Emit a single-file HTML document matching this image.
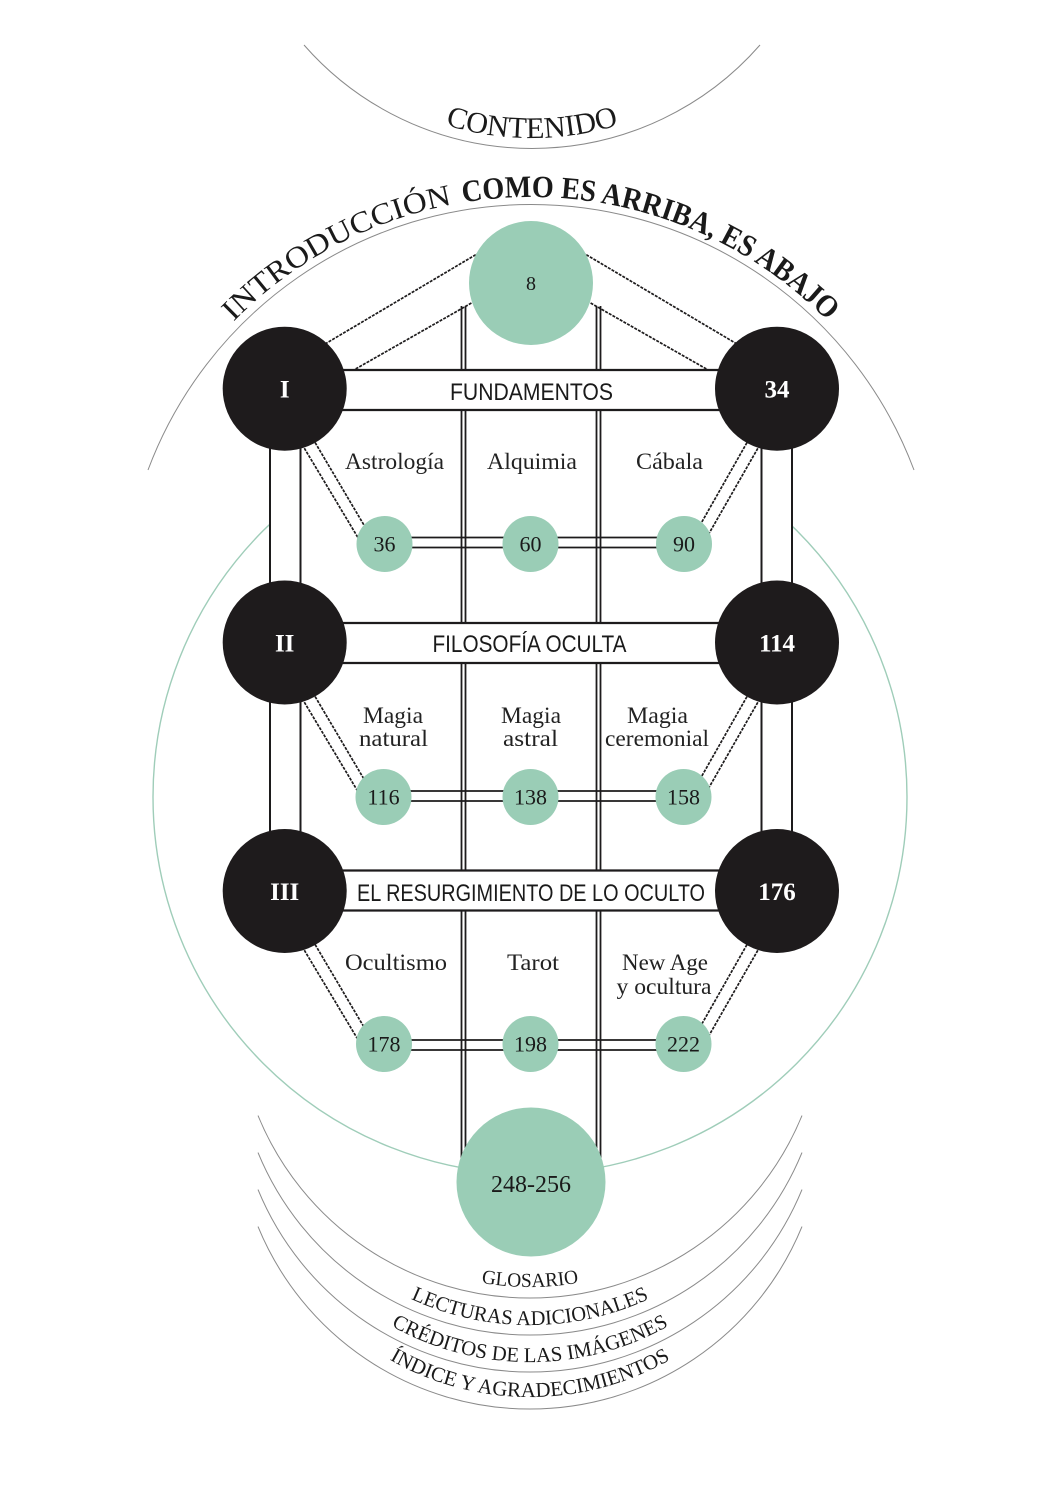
<!DOCTYPE html>
<html>
<head>
<meta charset="utf-8">
<style>
html,body{margin:0;padding:0;background:#fff;}
svg{display:block;}
.ser{font-family:"Liberation Serif",serif;}
.disp{font-family:"Liberation Sans Narrow","Liberation Sans",sans-serif;}
</style>
</head>
<body>
<svg width="1063" height="1500" viewBox="0 0 1063 1500" xmlns="http://www.w3.org/2000/svg">
<rect width="1063" height="1500" fill="#fff"/>
<defs>
  <path id="pContenido" d="M344.3,69.7 A292,292 0 0 0 719.7,69.7"/>
  <path id="pIntro" d="M206.9,351.6 A417,417 0 0 1 855.1,351.6"/>
  <path id="pGlos" d="M348.1,1220.8 A283,283 0 0 0 711.9,1220.8"/>
  <path id="pLect" d="M347.4,1258.6 A284,284 0 0 0 712.6,1258.6"/>
  <path id="pCred" d="M347.4,1295.6 A284,284 0 0 0 712.6,1295.6"/>
  <path id="pIndi" d="M348.7,1331 A282,282 0 0 0 711.3,1331"/>
</defs>

<!-- gray arcs -->
<g fill="none" stroke="#8a8a8a" stroke-width="1">
  <path d="M304,45 A303,303 0 0 0 760,45"/>
  <path d="M148,470 A409,409 0 0 1 914,470"/>
  <path d="M258,1115.6 A294,294 0 0 0 802,1115.6"/>
  <path d="M258,1152.6 A294,294 0 0 0 802,1152.6"/>
  <path d="M258,1189.6 A294,294 0 0 0 802,1189.6"/>
  <path d="M258,1226.6 A294,294 0 0 0 802,1226.6"/>
</g>

<!-- big green circle -->
<circle cx="530" cy="797" r="377" fill="none" stroke="#9fcdb9" stroke-width="1.4"/>
<rect x="270" y="405" width="522" height="550" fill="#fff"/>

<!-- pillars -->
<g stroke="#1d1b1c" stroke-width="2">
  <line x1="270" y1="389" x2="270" y2="891"/>
  <line x1="300.5" y1="389" x2="300.5" y2="891"/>
  <line x1="761.5" y1="389" x2="761.5" y2="891"/>
  <line x1="792" y1="389" x2="792" y2="891"/>
</g>

<!-- central verticals -->
<g stroke="#1d1b1c" stroke-width="1.8">
  <line x1="461.5" y1="306" x2="461.5" y2="1182"/>
  <line x1="465.5" y1="306" x2="465.5" y2="1182"/>
  <line x1="596.5" y1="306" x2="596.5" y2="1182"/>
  <line x1="600.5" y1="306" x2="600.5" y2="1182"/>
</g>

<!-- dashed diagonals -->
<g stroke="#1d1b1c" stroke-width="1.7" stroke-dasharray="3,1.2" fill="none">
  <line x1="325" y1="344" x2="482" y2="251"/>
  <line x1="352" y1="371" x2="475" y2="301"/>
  <line x1="737" y1="344" x2="580" y2="251"/>
  <line x1="710" y1="371" x2="587" y2="301"/>
  <!-- row 1 -->
  <line x1="300" y1="441" x2="360" y2="541"/>
  <line x1="313" y1="439" x2="366" y2="528.5"/>
  <line x1="762" y1="441" x2="707" y2="537"/>
  <line x1="749" y1="439" x2="699" y2="527"/>
  <!-- row 2 -->
  <line x1="300" y1="695" x2="360" y2="795"/>
  <line x1="313" y1="693" x2="366" y2="782.5"/>
  <line x1="762" y1="695" x2="707" y2="791"/>
  <line x1="749" y1="693" x2="699" y2="781"/>
  <!-- row 3 -->
  <line x1="300" y1="943" x2="360" y2="1043"/>
  <line x1="313" y1="941" x2="366" y2="1030.5"/>
  <line x1="762" y1="943" x2="707" y2="1039"/>
  <line x1="749" y1="941" x2="699" y2="1029"/>
</g>

<!-- horizontal double lines -->
<g stroke="#1d1b1c" stroke-width="1.7">
  <line x1="384" y1="537.5" x2="684" y2="537.5"/>
  <line x1="384" y1="547.5" x2="684" y2="547.5"/>
  <line x1="384" y1="791" x2="684" y2="791"/>
  <line x1="384" y1="801" x2="684" y2="801"/>
  <line x1="384" y1="1040" x2="684" y2="1040"/>
  <line x1="384" y1="1050" x2="684" y2="1050"/>
</g>

<!-- bars -->
<g>
  <rect x="300" y="370" width="462" height="40" fill="#fff"/>
  <rect x="300" y="623" width="462" height="40" fill="#fff"/>
  <rect x="300" y="870.5" width="462" height="40" fill="#fff"/>
</g>
<g stroke="#1d1b1c" stroke-width="2.2">
  <line x1="284" y1="370" x2="777" y2="370"/>
  <line x1="284" y1="410" x2="777" y2="410"/>
  <line x1="284" y1="623" x2="777" y2="623"/>
  <line x1="284" y1="663" x2="777" y2="663"/>
  <line x1="284" y1="870.5" x2="777" y2="870.5"/>
  <line x1="284" y1="910.5" x2="777" y2="910.5"/>
</g>

<!-- green nodes -->
<g fill="#9acdb6">
  <circle cx="531" cy="283" r="62"/>
  <circle cx="384.5" cy="544" r="28"/>
  <circle cx="530.5" cy="544" r="28"/>
  <circle cx="684" cy="544" r="28"/>
  <circle cx="383.5" cy="797" r="28"/>
  <circle cx="530.5" cy="797" r="28"/>
  <circle cx="683.5" cy="797" r="28"/>
  <circle cx="384" cy="1044" r="28"/>
  <circle cx="530.5" cy="1044" r="28"/>
  <circle cx="683.5" cy="1044" r="28"/>
  <circle cx="531" cy="1182" r="74.5"/>
</g>

<!-- black nodes -->
<g fill="#1e1b1c">
  <circle cx="284.7" cy="388.7" r="62"/>
  <circle cx="777" cy="388.7" r="62"/>
  <circle cx="284.7" cy="642.5" r="62"/>
  <circle cx="777" cy="642.5" r="62"/>
  <circle cx="284.7" cy="891" r="62"/>
  <circle cx="777" cy="891" r="62"/>
</g>

<!-- black node labels -->
<g class="ser" fill="#fff" font-weight="bold" font-size="25" text-anchor="middle">
  <text x="284.7" y="397.5">I</text>
  <text x="777" y="397.5">34</text>
  <text x="284.7" y="651.5">II</text>
  <text x="777" y="651.5">114</text>
  <text x="284.7" y="900">III</text>
  <text x="777" y="900">176</text>
</g>

<!-- green node labels -->
<g class="ser" fill="#1a1a1a" font-size="22" text-anchor="middle">
  <text x="531" y="290" font-size="20">8</text>
  <text x="384.5" y="551.5">36</text>
  <text x="530.5" y="551.5">60</text>
  <text x="684" y="551.5">90</text>
  <text x="383.5" y="804.5">116</text>
  <text x="530.5" y="804.5">138</text>
  <text x="683.5" y="804.5">158</text>
  <text x="384" y="1051.5">178</text>
  <text x="530.5" y="1051.5">198</text>
  <text x="683.5" y="1051.5">222</text>
  <text x="531" y="1192" font-size="24">248-256</text>
</g>

<!-- bar titles -->
<g class="disp" fill="#1a1a1a" font-size="24" text-anchor="middle">
  <text x="531.5" y="400" textLength="163" lengthAdjust="spacingAndGlyphs">FUNDAMENTOS</text>
  <text x="529.5" y="652" textLength="194" lengthAdjust="spacingAndGlyphs">FILOSOFÍA OCULTA</text>
  <text x="531" y="901" textLength="348" lengthAdjust="spacingAndGlyphs">EL RESURGIMIENTO DE LO OCULTO</text>
</g>

<!-- section labels -->
<g class="ser" fill="#222" font-size="23" text-anchor="middle">
  <text x="394.5" y="469" textLength="99" lengthAdjust="spacingAndGlyphs">Astrología</text>
  <text x="532" y="469" textLength="90" lengthAdjust="spacingAndGlyphs">Alquimia</text>
  <text x="669.5" y="469" textLength="67" lengthAdjust="spacingAndGlyphs">Cábala</text>
  <text x="393" y="723" textLength="60" lengthAdjust="spacingAndGlyphs">Magia</text>
  <text x="393.5" y="746" textLength="69" lengthAdjust="spacingAndGlyphs">natural</text>
  <text x="531" y="723" textLength="60" lengthAdjust="spacingAndGlyphs">Magia</text>
  <text x="530.5" y="746" textLength="55" lengthAdjust="spacingAndGlyphs">astral</text>
  <text x="657.5" y="723" textLength="61" lengthAdjust="spacingAndGlyphs">Magia</text>
  <text x="657" y="746" textLength="104" lengthAdjust="spacingAndGlyphs">ceremonial</text>
  <text x="396" y="970" textLength="102" lengthAdjust="spacingAndGlyphs">Ocultismo</text>
  <text x="533" y="970" textLength="52" lengthAdjust="spacingAndGlyphs">Tarot</text>
  <text x="665" y="970" textLength="86" lengthAdjust="spacingAndGlyphs">New Age</text>
  <text x="664" y="994" textLength="95" lengthAdjust="spacingAndGlyphs">y ocultura</text>
</g>

<!-- curved titles -->
<g class="ser" fill="#1a1a1a">
  <text font-size="30"><textPath href="#pContenido" startOffset="50%" text-anchor="middle" textLength="176" lengthAdjust="spacingAndGlyphs">CONTENIDO</textPath></text>
  <text font-size="30"><textPath href="#pIntro" startOffset="40" textLength="252" lengthAdjust="spacingAndGlyphs">INTRODUCCIÓN</textPath></text>
  <text font-size="31" font-weight="bold"><textPath href="#pIntro" startOffset="303" textLength="398" lengthAdjust="spacingAndGlyphs">COMO ES ARRIBA, ES ABAJO</textPath></text>
  <text font-size="20"><textPath href="#pGlos" startOffset="50%" text-anchor="middle" textLength="98" lengthAdjust="spacingAndGlyphs">GLOSARIO</textPath></text>
  <text font-size="21"><textPath href="#pLect" startOffset="50%" text-anchor="middle" textLength="246" lengthAdjust="spacingAndGlyphs">LECTURAS ADICIONALES</textPath></text>
  <text font-size="21"><textPath href="#pCred" startOffset="50%" text-anchor="middle" textLength="290" lengthAdjust="spacingAndGlyphs">CRÉDITOS DE LAS IMÁGENES</textPath></text>
  <text font-size="21"><textPath href="#pIndi" startOffset="50%" text-anchor="middle" textLength="294" lengthAdjust="spacingAndGlyphs">ÍNDICE Y AGRADECIMIENTOS</textPath></text>
</g>
</svg>
</body>
</html>
